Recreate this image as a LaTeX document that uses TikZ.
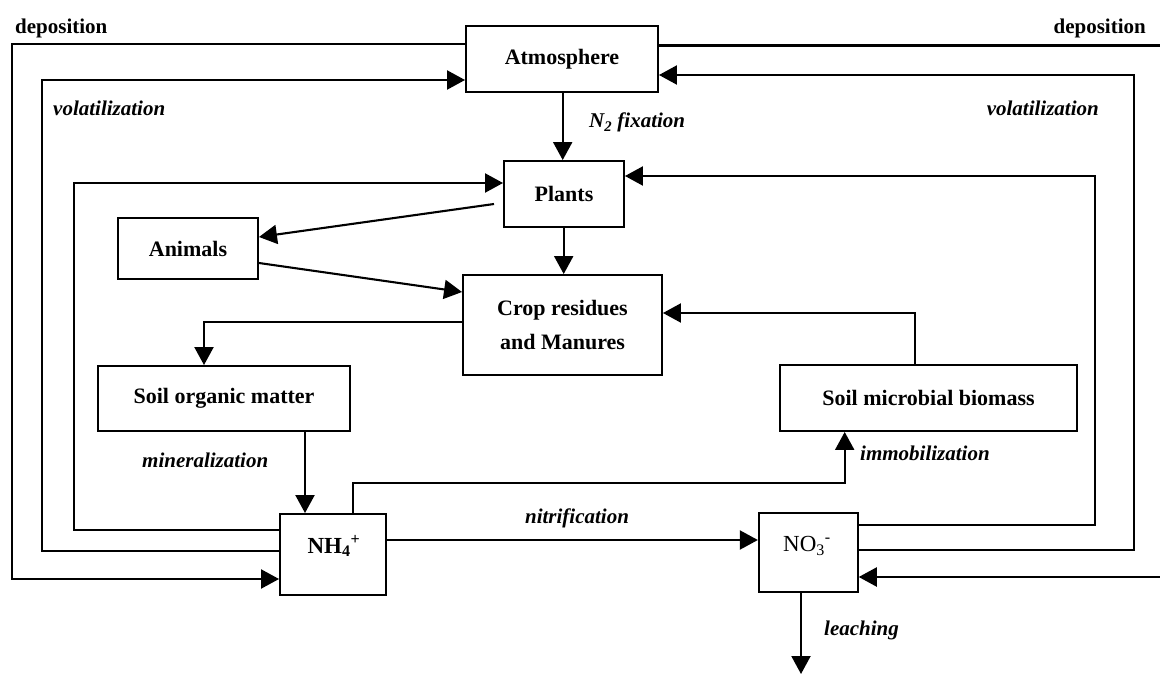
\documentclass[tikz,border=0pt]{standalone}
\usepackage{fontspec}
\setmainfont{Liberation Serif}
\usetikzlibrary{arrows.meta}
\begin{document}
\begin{tikzpicture}[x=1pt,y=-1pt,
  box/.style={draw, line width=1.9pt, rectangle, inner sep=0pt, align=center,
    font=\fontsize{22}{26}\selectfont\bfseries},
  lbl/.style={font=\fontsize{21}{24}\selectfont\bfseries\itshape, inner sep=0pt},
  dep/.style={font=\fontsize{21}{24}\selectfont\bfseries, inner sep=0pt},
  ion/.style={font=\fontsize{23}{26}\selectfont, inner sep=0pt},
  ln/.style={line width=2.1pt},
  arr/.style={ln, -{Triangle[length=18pt,width=19pt]}},
]
\useasboundingbox (0,0) rectangle (1160,674);

% boxes
\node[box, minimum width=192pt, minimum height=66pt] (atm) at (562,59) {Atmosphere};
\node[box, minimum width=120pt, minimum height=66pt] (plants) at (564,194) {Plants};
\node[box, minimum width=140pt, minimum height=61pt] (animals) at (188,248.5) {Animals};
\node[box, minimum width=199pt, minimum height=100pt] (crop) at (562.5,325) {Crop residues\\[8pt]and Manures};
\node[box, minimum width=252pt, minimum height=65pt] (som) at (224,398.5) {Soil organic matter};
\node[box, minimum width=297pt, minimum height=66pt] (mic) at (928.5,398) {Soil microbial biomass};
\node[box, minimum width=106pt, minimum height=81pt] (nh4) at (333,554.5) {};
\node[box, minimum width=99pt, minimum height=79pt] (no3) at (808.3,552.3) {};
\node[ion, font=\fontsize{23}{26}\selectfont\bfseries] (nh4t) at (334,546) {NH\textsubscript{4}\textsuperscript{+}};
\node[ion] (no3t) at (807,546) {NO\textsubscript{3}\textsuperscript{-}};

% labels
\node[dep, anchor=base west] (depl) at (15,34) {deposition};
\node[dep, anchor=base east] (depr) at (1146,34) {deposition};
\node[lbl, anchor=base west] (voll) at (53,116) {volatilization};
\node[lbl, anchor=base east] (volr) at (1099,116) {volatilization};
\node[lbl, anchor=base west] (fix) at (589,128) {N\textsubscript{2} fixation};
\node[lbl, anchor=base west] (mine) at (142,467) {mineralization};
\node[lbl, anchor=base] (nitr) at (577,523) {nitrification};
\node[lbl, anchor=base west] (immo) at (860,460) {immobilization};
\node[lbl, anchor=base west] (leach) at (824,635) {leaching};

% connectors
\draw[arr] (atm.west |- 0,44) -- (12,44) -- (12,579) -- (nh4.west |- 0,579);
\draw[arr] (atm.east |- 0,45.5) -- (1163,45.5) -- (1163,577) -- (no3.east |- 0,577);
\draw[arr] (nh4.west |- 0,551) -- (41.7,551) -- (41.7,80) -- (atm.west |- 0,80);
\draw[arr] (no3.east |- 0,550) -- (1133.7,550) -- (1133.7,75) -- (atm.east |- 0,75);
\draw[arr] (nh4.west |- 0,530) -- (74,530) -- (74,183) -- (plants.west |- 0,183);
\draw[arr] (no3.east |- 0,525) -- (1094.7,525) -- (1094.7,176) -- (plants.east |- 0,176);
\draw[arr] (atm.south -| 562.7,0) -- (plants.north -| 562.7,0);
\coordinate (pstart) at (494,204);
\draw[arr] (pstart) -- (animals.east |- 0,237);
\draw[arr] (animals.east |- 0,263) -- (crop.west |- 0,292);
\draw[arr] (plants.south -| 563.7,0) -- (crop.north -| 563.7,0);
\draw[arr] (crop.west |- 0,322) -- (204,322) -- (som.north -| 204,0);
\draw[arr] (mic.north -| 914.7,0) -- (914.7,313) -- (crop.east |- 0,313);
\draw[arr] (som.south -| 305,0) -- (nh4.north -| 305,0);
\draw[arr] (nh4.north -| 353,0) -- (353,482.7) -- (844.7,482.7) -- (mic.south -| 844.7,0);
\draw[arr] (nh4.east |- 0,540) -- (no3.west |- 0,540);
\coordinate (leachend) at (801,674);
\draw[arr] (no3.south -| 801,0) -- (leachend);
\end{tikzpicture}
\end{document}
